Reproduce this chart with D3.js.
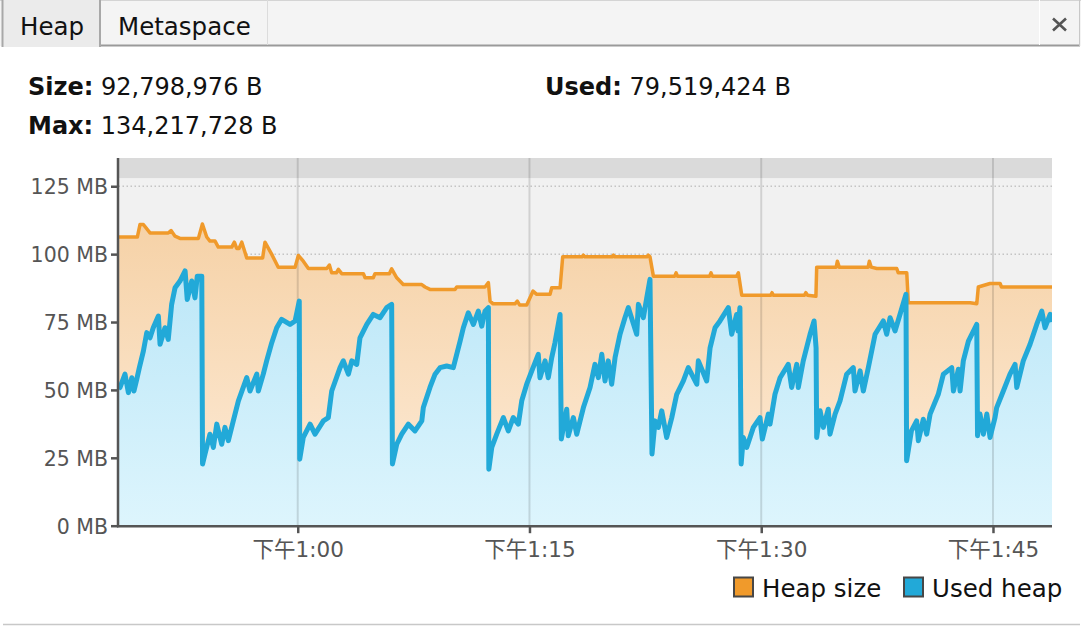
<!DOCTYPE html>
<html><head><meta charset="utf-8">
<script src="https://cdn.jsdelivr.net/npm/d3@7"></script>
<style>html,body{margin:0;padding:0;background:#fff;}svg{display:block;font-family:"DejaVu Sans","Noto Sans CJK SC",sans-serif;}</style>
</head><body><svg id="c" width="1086" height="626"></svg>
<script>
// ---------- data ----------
const tabs = ["Heap", "Metaspace"];
const sizeBytes = 92798976, usedBytes = 79519424, maxBytes = 134217728;
const yTicksMB = [0, 25, 50, 75, 100, 125];
const xTickMinutes = [60, 75, 90, 105];            // minutes after 12:00
const xTickLabels = ["下午1:00", "下午1:15", "下午1:30", "下午1:45"];
const timeDomain = [48.40, 108.82];                // minutes after 12:00
const yDomainMB = [0, 135.4];
const seriesNames = ["Heap size", "Used heap"];
const seriesColors = ["#f09a2b", "#22a9d8"];
// [minutes after 12:00, MB]
const heapSize = [[48.40,106.3],[49.62,106.3],[49.79,110.9],[50.01,110.9],[50.44,107.8],[51.62,107.8],[51.80,108.7],[52.06,106.6],[52.38,105.8],[53.57,105.8],[53.83,111.1],[54.11,106.3],[54.32,104.8],[54.65,104.8],[54.86,102.6],[55.73,102.6],[55.90,104.4],[56.05,102.1],[56.20,102.1],[56.38,104.4],[56.70,98.6],[57.73,98.6],[57.88,104.4],[58.32,99.9],[58.74,95.2],[59.83,95.2],[60.04,99.5],[60.36,97.4],[60.69,94.7],[61.88,94.7],[62.05,96.0],[62.20,93.1],[62.50,93.1],[62.63,94.4],[62.85,92.8],[64.25,92.8],[64.36,91.3],[64.89,91.3],[65.00,92.8],[65.93,92.8],[66.08,94.6],[66.41,91.3],[66.83,88.8],[68.03,88.8],[68.24,87.9],[68.56,87.0],[70.18,87.0],[70.29,87.9],[72.12,87.9],[72.34,89.5],[72.45,82.7],[72.65,81.7],[74.06,81.7],[74.21,82.7],[74.36,81.3],[74.82,81.3],[75.23,86.4],[75.47,85.2],[76.33,85.2],[76.44,87.6],[76.98,87.6],[77.15,99.0],[78.40,99.0],[78.49,99.6],[78.58,99.0],[80.35,99.0],[80.43,99.6],[80.52,99.0],[82.60,99.0],[82.69,99.6],[82.80,99.0],[83.02,91.9],[84.40,91.9],[84.49,93.1],[84.58,91.9],[86.66,91.9],[86.75,93.1],[86.84,91.9],[88.41,91.9],[88.52,93.1],[88.74,84.9],[90.62,84.9],[90.70,85.8],[90.78,84.9],[92.80,84.9],[92.89,85.8],[93.00,84.9],[93.54,84.5],[93.59,95.2],[94.85,95.2],[94.93,97.4],[95.05,95.2],[96.92,95.2],[97.00,97.4],[97.12,95.2],[97.48,94.7],[98.77,94.7],[98.87,93.1],[99.42,93.1],[99.52,82.1],[103.52,82.1],[103.95,81.7],[104.05,87.9],[104.81,89.2],[105.46,89.2],[105.55,87.9],[108.82,87.9]];
const usedHeap = [[48.40,50.5],[48.50,50.9],[48.82,55.8],[49.04,49.0],[49.26,54.5],[49.40,49.6],[49.58,53.9],[49.75,58.2],[50.01,64.3],[50.23,71.1],[50.44,69.2],[50.65,72.9],[50.98,77.2],[51.09,66.8],[51.41,72.9],[51.62,68.6],[51.84,81.5],[52.06,87.6],[52.38,90.1],[52.71,93.8],[52.85,83.3],[53.14,90.1],[53.35,83.9],[53.50,91.9],[53.79,91.9],[53.84,22.7],
[54.00,26.4],[54.32,33.7],[54.54,28.8],[54.76,37.4],[55.08,30.0],[55.29,36.2],[55.51,31.3],[55.83,38.6],[56.16,46.0],[56.70,54.5],[56.91,49.6],[57.35,55.8],[57.45,49.6],[57.77,55.8],[57.99,60.7],[58.32,67.4],[58.64,72.9],[58.96,76.0],[59.50,74.1],[59.83,75.4],[60.10,82.7],[60.13,24.5],
[60.36,32.5],[60.80,37.4],[61.12,33.7],[61.66,38.6],[61.98,39.8],[62.20,49.6],[62.74,58.2],[62.95,60.7],[63.28,55.8],[63.50,60.7],[63.82,59.4],[64.03,69.2],[64.47,74.1],[64.89,77.8],[65.33,76.6],[65.76,80.3],[66.08,81.5],[66.13,22.7],
[66.41,30.0],[66.73,33.7],[67.16,37.4],[67.59,34.9],[68.03,38.6],[68.13,43.5],[68.56,50.9],[68.89,55.8],[69.21,58.2],[69.64,58.8],[70.07,58.2],[70.29,63.1],[70.51,68.0],[70.72,72.9],[71.04,78.4],[71.37,74.1],[71.69,79.0],[71.91,73.5],[72.12,79.0],[72.34,80.3],[72.37,20.8],
[72.56,28.8],[72.88,33.7],[73.31,39.8],[73.63,34.9],[73.95,39.8],[74.28,37.4],[74.50,46.0],[74.82,52.1],[75.15,57.0],[75.57,63.1],[75.68,54.5],[76.01,60.7],[76.22,54.5],[76.44,61.9],[76.65,67.4],[76.98,77.8],[77.06,31.9],
[77.41,42.9],[77.51,33.1],[77.84,39.8],[78.06,33.7],[78.49,43.5],[78.92,50.9],[79.24,59.4],[79.46,54.5],[79.68,63.1],[79.89,53.3],[80.10,60.7],[80.32,52.1],[80.54,61.9],[80.86,70.5],[81.18,76.6],[81.40,80.3],[81.94,70.5],[82.05,81.5],[82.37,76.6],[82.59,83.9],[82.80,90.7],[82.93,26.4],
[83.13,38.6],[83.34,36.2],[83.56,42.3],[83.88,32.5],[84.21,39.8],[84.53,48.4],[84.96,53.3],[85.28,58.2],[85.83,52.1],[85.93,60.7],[86.47,53.3],[86.69,65.5],[87.01,72.9],[87.33,75.4],[87.87,80.3],[88.09,70.5],[88.41,77.8],[88.50,71.7],[88.62,80.3],[88.70,22.7],
[88.84,32.5],[89.06,28.8],[89.49,36.2],[89.92,39.8],[90.07,31.9],[90.46,41.1],[90.57,37.4],[90.89,48.4],[91.22,54.5],[91.75,59.4],[91.97,50.9],[92.30,59.4],[92.40,50.9],[92.72,60.7],[93.16,70.5],[93.42,75.4],[93.55,65.5],[93.59,32.5],
[93.81,42.3],[94.02,36.2],[94.34,42.9],[94.45,33.7],[94.78,41.1],[95.10,46.0],[95.53,55.8],[95.96,58.2],[96.07,49.6],[96.40,57.0],[96.61,49.6],[96.93,58.2],[97.37,70.5],[97.90,75.4],[98.12,70.5],[98.34,76.6],[98.66,71.7],[98.98,77.8],[99.37,85.2],[99.41,23.9],
[99.72,34.9],[100.06,38.6],[100.17,31.3],[100.49,39.2],[100.71,33.7],[100.93,41.1],[101.46,48.4],[101.79,55.8],[102.33,58.2],[102.44,49.6],[102.76,57.6],[102.87,49.6],[103.08,60.7],[103.41,68.0],[103.95,74.1],[104.00,33.1],
[104.16,41.1],[104.38,33.7],[104.60,41.1],[104.81,32.5],[105.13,39.8],[105.24,43.5],[105.67,49.6],[106.10,55.8],[106.43,59.4],[106.54,50.9],[106.96,60.7],[107.40,66.8],[107.83,74.1],[108.16,79.0],[108.37,72.9],[108.70,77.8],[108.82,75.0]];

// ---------- drawing ----------
const FONT = '"DejaVu Sans","Noto Sans CJK SC",sans-serif';
const MB = 1048576;
const base = new Date(2024, 0, 1, 12, 0, 0).getTime();
const toDate = m => new Date(base + m * 60000);
const svg = d3.select("#c");
const L = 118.5, R = 1052, T = 158, B = 525.7;
const x = d3.scaleTime().domain(timeDomain.map(toDate)).range([L, R]);
const y = d3.scaleLinear().domain(yDomainMB).range([B, T]);
const fmt = d3.format(",");

// tab bar
const tb = svg.append("g");
tb.append("rect").attr("x", 0).attr("y", 0).attr("width", 1081).attr("height", 46).attr("fill", "#f4f4f4");
tb.append("line").attr("x1", 0).attr("x2", 1081).attr("y1", 0.5).attr("y2", 0.5).attr("stroke", "#d4d4d4");
tb.append("rect").attr("x", 2).attr("y", 0).attr("width", 98).attr("height", 47).attr("fill", "#ebebeb");
tb.append("line").attr("x1", 101).attr("x2", 1080).attr("y1", 45.5).attr("y2", 45.5).attr("stroke", "#9a9a9a").attr("stroke-width", 2);
tb.append("line").attr("x1", 2.5).attr("x2", 2.5).attr("y1", 0).attr("y2", 47).attr("stroke", "#a8a8a8").attr("stroke-width", 2);
tb.append("line").attr("x1", 100).attr("x2", 100).attr("y1", 0).attr("y2", 47).attr("stroke", "#a8a8a8").attr("stroke-width", 2);
tb.append("line").attr("x1", 267.5).attr("x2", 267.5).attr("y1", 0).attr("y2", 45).attr("stroke", "#dcdcdc");
tb.append("line").attr("x1", 1039.5).attr("x2", 1039.5).attr("y1", 0).attr("y2", 45).attr("stroke", "#ffffff");
tb.append("line").attr("x1", 1079.5).attr("x2", 1079.5).attr("y1", 0).attr("y2", 46).attr("stroke", "#c8c8c8");
tb.selectAll("text.tab").data(tabs).join("text").attr("class", "tab")
  .attr("x", (d, i) => i === 0 ? 20 : 118).attr("y", 35)
  .attr("font-size", 24.5).attr("fill", "#111").text(d => d);
tb.append("path").attr("d", "M1053,18.5L1066,30.5M1066,18.5L1053,30.5")
  .attr("stroke", "#555").attr("stroke-width", 2.6).attr("fill", "none");

// stats text
const stats = [
  {label: "Size:", value: sizeBytes, x: 28, y: 95},
  {label: "Used:", value: usedBytes, x: 545, y: 95},
  {label: "Max:", value: maxBytes, x: 28, y: 134}
];
stats.forEach(s => {
  const t = svg.append("text").attr("x", s.x).attr("y", s.y).attr("font-size", 24).attr("fill", "#111");
  t.append("tspan").attr("font-weight", "bold").text(s.label);
  t.append("tspan").text(" " + fmt(s.value) + " B");
});

// defs
const defs = svg.append("defs");
defs.append("clipPath").attr("id", "clip").append("rect").attr("x", L).attr("y", T).attr("width", R - L).attr("height", B - T);
const og = defs.append("linearGradient").attr("id", "og").attr("gradientUnits", "userSpaceOnUse").attr("x1", 0).attr("x2", 0).attr("y1", T).attr("y2", B);
og.append("stop").attr("offset", 0).attr("stop-color", "#f4cc9c");
og.append("stop").attr("offset", 1).attr("stop-color", "#fdecd9");
const bg = defs.append("linearGradient").attr("id", "bg").attr("gradientUnits", "userSpaceOnUse").attr("x1", 0).attr("x2", 0).attr("y1", T).attr("y2", B);
bg.append("stop").attr("offset", 0).attr("stop-color", "#aee1f5");
bg.append("stop").attr("offset", 1).attr("stop-color", "#ddf5fd");

// plot background
const plot = svg.append("g").attr("clip-path", "url(#clip)");
plot.append("rect").attr("x", L).attr("y", T).attr("width", R - L).attr("height", B - T).attr("fill", "#f1f1f1");
plot.append("rect").attr("x", L).attr("y", T).attr("width", R - L).attr("height", y(maxBytes / MB) - T).attr("fill", "#dadada");

// horizontal dotted grid
plot.selectAll("line.hg").data(yTicksMB.slice(1)).join("line").attr("class", "hg")
  .attr("x1", L).attr("x2", R).attr("y1", d => y(d)).attr("y2", d => y(d))
  .attr("stroke", "#c4c4c4").attr("stroke-width", 1.5).attr("stroke-dasharray", "1.5,2.5");

// areas
const area = d3.area().x(d => x(toDate(d[0]))).y0(y(0)).y1(d => y(d[1]));
const line = d3.line().x(d => x(toDate(d[0]))).y(d => y(d[1]));
plot.append("path").datum(heapSize).attr("d", area).attr("fill", "url(#og)");
plot.append("path").datum(usedHeap).attr("d", area).attr("fill", "url(#bg)");

// vertical grid
plot.selectAll("line.vg").data(xTickMinutes).join("line").attr("class", "vg")
  .attr("x1", d => x(toDate(d))).attr("x2", d => x(toDate(d))).attr("y1", T).attr("y2", B)
  .attr("stroke", "#000").attr("stroke-opacity", 0.13).attr("stroke-width", 2);

// lines
plot.append("path").datum(heapSize).attr("d", line).attr("fill", "none")
  .attr("stroke", seriesColors[0]).attr("stroke-width", 3.5).attr("stroke-linejoin", "round");
plot.append("path").datum(usedHeap).attr("d", line).attr("fill", "none")
  .attr("stroke", seriesColors[1]).attr("stroke-width", 5).attr("stroke-linejoin", "round");

// axes
const yAxis = d3.axisLeft(y).tickValues(yTicksMB).tickFormat(d => d + " MB").tickSize(7).tickPadding(3).tickSizeOuter(0);
const ga = svg.append("g").attr("transform", `translate(${L - 0.5},0)`).call(yAxis);
const xAxis = d3.axisBottom(x).tickValues(xTickMinutes.map(toDate)).tickFormat((d, i) => xTickLabels[i]).tickSize(7).tickPadding(9).tickSizeOuter(0);
const gx = svg.append("g").attr("transform", `translate(0,${B + 0.5})`).call(xAxis);
[ga, gx].forEach(g => {
  g.select(".domain").attr("stroke", "#555").attr("stroke-width", 2.5);
  g.selectAll(".tick line").attr("stroke", "#555").attr("stroke-width", 2.5);
  g.selectAll(".tick text").attr("fill", "#555").attr("font-size", 20.5).attr("font-family", FONT);
});
gx.selectAll(".tick text").attr("font-size", 21.5);
ga.select(".domain").attr("d", `M0,${T}V${B + 1.5}`);
gx.select(".domain").attr("d", `M${L - 1.5},0H${R}`);
ga.selectAll(".tick text").attr("dy", "0.36em");

// legend
const lg = svg.append("g");
const lx = [734, 904];
seriesNames.forEach((n, i) => {
  lg.append("rect").attr("x", lx[i]).attr("y", 577.5).attr("width", 19).attr("height", 19)
    .attr("fill", seriesColors[i]).attr("stroke", "#474747").attr("stroke-width", 2);
  lg.append("text").attr("x", lx[i] + 28).attr("y", 597).attr("font-size", 24.5).attr("fill", "#111").text(n);
});

// bottom separator
svg.append("line").attr("x1", 3).attr("x2", 1080).attr("y1", 624.5).attr("y2", 624.5).attr("stroke", "#c8c8c8").attr("stroke-width", 1.5);
</script></body></html>
